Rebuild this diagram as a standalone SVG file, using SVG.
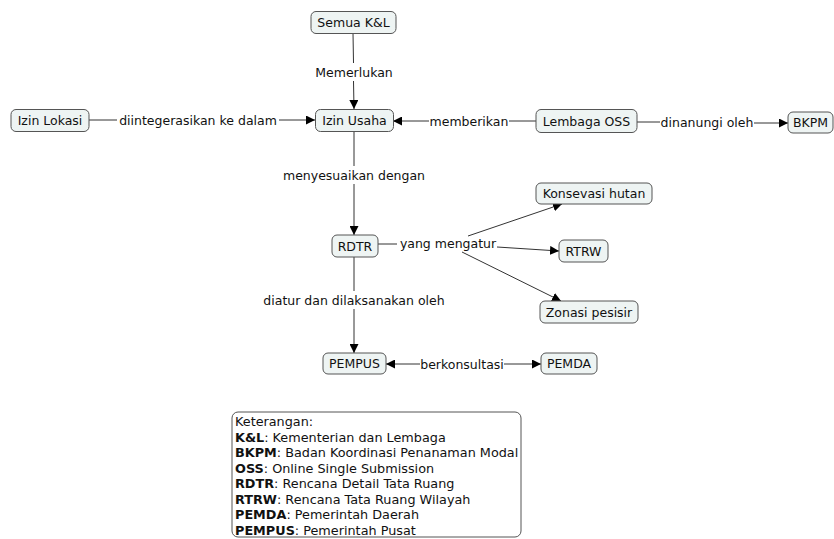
<svg xmlns="http://www.w3.org/2000/svg" width="834" height="539" viewBox="0 0 834 539">
<defs>
<marker id="arr" viewBox="0 0 10 10" refX="10" refY="5" markerWidth="9" markerHeight="9" markerUnits="userSpaceOnUse" orient="auto"><path d="M0,0 L10,5 L0,10 z" fill="#000"/></marker>
<style>
.node rect{fill:#eef4f3;stroke:#555;stroke-width:1}
.node text{font-family:"DejaVu Sans",Verdana,sans-serif;font-size:12.5px;fill:#111;text-anchor:middle;dominant-baseline:central}
.lbl{font-family:"DejaVu Sans",Verdana,sans-serif;font-size:12.5px;fill:#111;text-anchor:middle;dominant-baseline:central}
.c{stroke:#333;stroke-width:1;fill:none}
.a{marker-end:url(#arr)}
.leg{font-family:"DejaVu Sans",Verdana,sans-serif;font-size:12.8px;fill:#111}
</style>
</defs>
<rect width="834" height="539" fill="#ffffff"/>
<g id="connectors">
<line class="c" x1="353" y1="33" x2="353.5" y2="63"/>
<line class="c a" x1="353.5" y1="81" x2="354" y2="109"/>
<text class="lbl" x="354" y="72">Memerlukan</text>
<line class="c" x1="89" y1="120" x2="117" y2="120"/>
<line class="c a" x1="279" y1="120" x2="315" y2="120"/>
<text class="lbl" x="198" y="120">diintegerasikan ke dalam</text>
<line class="c" x1="536" y1="121" x2="509" y2="121"/>
<line class="c a" x1="429" y1="121" x2="393" y2="121"/>
<text class="lbl" x="469" y="121">memberikan</text>
<line class="c" x1="637" y1="122" x2="660" y2="122"/>
<line class="c a" x1="754" y1="123" x2="788" y2="123"/>
<text class="lbl" x="707" y="122">dinanungi oleh</text>
<line class="c" x1="354" y1="131" x2="354" y2="166"/>
<line class="c a" x1="354" y1="184" x2="354" y2="235"/>
<text class="lbl" x="354" y="175">menyesuaikan dengan</text>
<line class="c" x1="378" y1="244" x2="397" y2="244"/>
<text class="lbl" x="448" y="243">yang mengatur</text>
<line class="c a" x1="468" y1="236" x2="562" y2="204"/>
<line class="c a" x1="497" y1="247" x2="559" y2="251"/>
<line class="c a" x1="462" y1="252" x2="561" y2="301"/>
<line class="c" x1="354" y1="257" x2="354" y2="291"/>
<line class="c a" x1="354" y1="309" x2="354" y2="353"/>
<text class="lbl" x="354" y="300">diatur dan dilaksanakan oleh</text>
<line class="c a" x1="420" y1="364" x2="386" y2="364"/>
<line class="c a" x1="504" y1="364" x2="541" y2="364"/>
<text class="lbl" x="462" y="364">berkonsultasi</text>
</g>
<g id="semua" class="node"><rect x="311" y="11.5" width="85" height="22" rx="5"/><text x="353.5" y="22.5">Semua K&amp;L</text></g>
<g id="izinlokasi" class="node"><rect x="11" y="109.5" width="78" height="22" rx="5"/><text x="50" y="120.5">Izin Lokasi</text></g>
<g id="izinusaha" class="node"><rect x="315.5" y="109.5" width="78" height="22" rx="5"/><text x="354.5" y="120.5">Izin Usaha</text></g>
<g id="oss" class="node"><rect x="536" y="109.5" width="101" height="23" rx="5"/><text x="586.5" y="121">Lembaga OSS</text></g>
<g id="bkpm" class="node"><rect x="788" y="112" width="45" height="21" rx="5"/><text x="810.5" y="122.5">BKPM</text></g>
<g id="konsevasi" class="node"><rect x="536" y="183" width="116" height="21" rx="5"/><text x="594" y="193.5">Konsevasi hutan</text></g>
<g id="rtrw" class="node"><rect x="559" y="240" width="49" height="22" rx="5"/><text x="583.5" y="251">RTRW</text></g>
<g id="zonasi" class="node"><rect x="540" y="301" width="98" height="22" rx="5"/><text x="589" y="312">Zonasi pesisir</text></g>
<g id="rdtr" class="node"><rect x="332" y="235" width="46" height="22" rx="5"/><text x="355" y="246">RDTR</text></g>
<g id="pempus" class="node"><rect x="323" y="353" width="63" height="21" rx="5"/><text x="354.5" y="363.5">PEMPUS</text></g>
<g id="pemda" class="node"><rect x="541" y="353" width="56" height="21" rx="5"/><text x="569" y="363.5">PEMDA</text></g>
<g id="legend">
<rect x="232" y="412" width="289" height="125" rx="6" fill="#ffffff" stroke="#555"/>
<text class="leg" x="235" y="426">Keterangan:</text>
<text class="leg" x="235" y="441.5"><tspan font-weight="bold">K&amp;L</tspan>: Kementerian dan Lembaga</text>
<text class="leg" x="235" y="457"><tspan font-weight="bold">BKPM</tspan>: Badan Koordinasi Penanaman Modal</text>
<text class="leg" x="235" y="472.5"><tspan font-weight="bold">OSS</tspan>: Online Single Submission</text>
<text class="leg" x="235" y="488"><tspan font-weight="bold">RDTR</tspan>: Rencana Detail Tata Ruang</text>
<text class="leg" x="235" y="503.5"><tspan font-weight="bold">RTRW</tspan>: Rencana Tata Ruang Wilayah</text>
<text class="leg" x="235" y="519"><tspan font-weight="bold">PEMDA</tspan>: Pemerintah Daerah</text>
<text class="leg" x="235" y="534.5"><tspan font-weight="bold">PEMPUS</tspan>: Pemerintah Pusat</text>
</g>
</svg>
